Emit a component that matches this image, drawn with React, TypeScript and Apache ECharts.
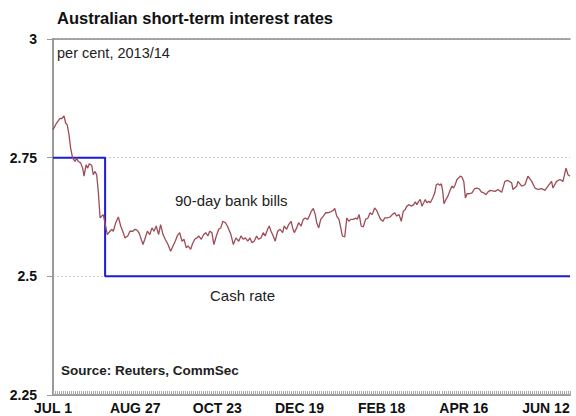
import React, { useEffect, useRef } from "react";
import * as echarts from "echarts";

// x positions are business-day indices from JUL 1 2013 (0) to JUN 30 2014 (258)
const tickDays = [0, 41, 82, 123, 164, 205, 246];
const tickLabels = ["JUL 1", "AUG 27", "OCT 23", "DEC 19", "FEB 18", "APR 16", "JUN 12"];
const yTicks = [2.25, 2.5, 2.75, 3];

const billDays = [
  0, 1.8, 3.5, 4.3, 5.5, 6.3, 7.1, 8.0, 8.8, 9.8, 11.0, 11.8, 12.6, 13.8, 14.8, 15.5, 16.5, 17.3, 18.1, 19.3,
  20.1, 21.0, 21.8, 22.6, 23.5, 24.3, 25.1, 27.1, 28.4, 29.3, 30.1, 31.3, 32.6, 33.8, 34.8, 35.9, 37.3, 38.4, 39.8, 40.9,
  42.1, 43.1, 43.8, 44.9, 45.8, 47.1, 48.3, 49.4, 50.4, 51.5, 52.7, 53.7, 54.9, 56.0, 57.4, 58.7, 59.9, 61.0, 62.0, 63.2,
  64.4, 65.4, 66.5, 67.4, 68.7, 69.5, 70.7, 71.9, 72.7, 74.0, 75.2, 76.2, 77.3, 78.2, 79.3, 80.3, 81.5, 82.7, 83.7, 84.8,
  86.0, 87.0, 88.8, 90.0, 91.3, 92.7, 93.8, 95.0, 96.0, 97.2, 98.3, 99.3, 100.4, 101.6, 102.6, 103.8, 104.9, 105.9, 107.1, 107.9,
  108.8, 109.9, 110.9, 112.1, 113.3, 114.6, 115.4, 116.6, 117.6, 118.8, 119.6, 120.4, 121.6, 122.6, 123.8, 124.9, 125.9, 127.1, 127.9, 128.9,
  129.9, 130.9, 131.6, 132.6, 133.6, 134.9, 136.1, 137.2, 138.6, 139.9, 140.6, 141.6, 142.7, 143.6, 144.4, 145.6, 146.6, 147.6, 148.6, 149.9,
  151.0, 151.8, 152.8, 153.8, 154.8, 156.0, 157.2, 158.2, 159.3, 160.5, 161.5, 162.7, 163.5, 164.7, 165.5, 166.8, 168.2, 169.3, 170.5, 171.5,
  172.7, 173.8, 174.8, 175.8, 176.6, 177.8, 178.8, 180.0, 180.8, 181.6, 182.5, 183.3, 184.1, 185.0, 185.8, 186.6, 187.5, 188.3, 189.5, 190.5,
  191.3, 192.1, 193.0, 193.8, 194.5, 195.1, 196.1, 197.1, 198.1, 199.1, 199.9, 200.7, 201.6, 202.4, 203.2, 204.1, 205.0, 205.8, 206.6, 207.8,
  209.1, 210.4, 211.6, 212.7, 213.7, 214.9, 216.1, 217.1, 218.2, 220.6, 222.1, 223.9, 225.5, 227.0, 228.9, 229.5, 231.4, 232.0, 233.9, 235.5,
  237.0, 238.9, 240.5, 242.0, 243.9, 245.5, 247.0, 248.8, 249.5, 251.3, 253.0, 254.5, 256.0, 257.0, 258.0,
];

const billRates = [
  2.809, 2.823, 2.833, 2.832, 2.838, 2.823, 2.819, 2.798, 2.770, 2.749, 2.742, 2.749, 2.742, 2.739, 2.728, 2.711, 2.735, 2.728, 2.737, 2.734,
  2.714, 2.721, 2.714, 2.679, 2.623, 2.627, 2.630, 2.588, 2.595, 2.599, 2.595, 2.613, 2.625, 2.606, 2.595, 2.581, 2.585, 2.595, 2.595, 2.599,
  2.597, 2.590, 2.581, 2.567, 2.578, 2.595, 2.588, 2.602, 2.595, 2.606, 2.588, 2.609, 2.588, 2.578, 2.567, 2.553, 2.564, 2.574, 2.585, 2.592,
  2.574, 2.578, 2.560, 2.564, 2.557, 2.567, 2.578, 2.581, 2.585, 2.578, 2.588, 2.592, 2.585, 2.595, 2.592, 2.567, 2.585, 2.599, 2.602, 2.616,
  2.613, 2.606, 2.588, 2.567, 2.581, 2.574, 2.585, 2.578, 2.581, 2.574, 2.581, 2.571, 2.574, 2.585, 2.578, 2.581, 2.592, 2.585, 2.599, 2.606,
  2.595, 2.585, 2.574, 2.595, 2.599, 2.592, 2.606, 2.599, 2.609, 2.616, 2.602, 2.592, 2.602, 2.613, 2.606, 2.620, 2.623, 2.620, 2.627, 2.637,
  2.643, 2.630, 2.613, 2.602, 2.620, 2.627, 2.634, 2.634, 2.636, 2.639, 2.643, 2.627, 2.620, 2.602, 2.585, 2.583, 2.623, 2.616, 2.620, 2.620,
  2.623, 2.620, 2.630, 2.606, 2.604, 2.620, 2.623, 2.634, 2.630, 2.644, 2.639, 2.627, 2.620, 2.616, 2.623, 2.623, 2.625, 2.630, 2.634, 2.627,
  2.630, 2.616, 2.637, 2.641, 2.648, 2.651, 2.648, 2.651, 2.657, 2.651, 2.658, 2.662, 2.648, 2.655, 2.662, 2.655, 2.658, 2.655, 2.665, 2.676,
  2.693, 2.695, 2.692, 2.695, 2.679, 2.653, 2.662, 2.669, 2.681, 2.690, 2.686, 2.693, 2.704, 2.707, 2.711, 2.709, 2.700, 2.665, 2.674, 2.674,
  2.676, 2.685, 2.686, 2.684, 2.678, 2.676, 2.672, 2.678, 2.681, 2.679, 2.683, 2.677, 2.700, 2.702, 2.697, 2.683, 2.690, 2.700, 2.690, 2.693,
  2.711, 2.700, 2.686, 2.683, 2.685, 2.681, 2.690, 2.700, 2.686, 2.700, 2.704, 2.700, 2.728, 2.714, 2.711,
];

const cashDays = [0, 26, 26, 258];
const cashRates = [2.75, 2.75, 2.5, 2.5];

const FONT = "'Liberation Sans', Arial, Helvetica, sans-serif";

export default function App() {
  const ref = useRef<HTMLDivElement>(null);

  useEffect(() => {
    if (!ref.current) return;
    const chart = echarts.init(ref.current, null, { renderer: "svg" });
    const allDays: number[] = [];
    for (let d = 0; d <= 258; d++) allDays.push(d);

    const option: any = {
      animation: false,
      backgroundColor: "#ffffff",
      grid: { left: 53, right: 6, top: 39, bottom: 21, containLabel: false, outerBoundsMode: "none" },
      xAxis: [
        {
          type: "value",
          min: 0,
          max: 258,
          axisLine: { show: true, lineStyle: { color: "#9a9a9a", width: 2 } },
          axisTick: {
            show: true,
            customValues: allDays,
            inside: true,
            length: 4,
            lineStyle: { color: "#a8a8a8", width: 1 },
          },
          axisLabel: {
            show: true,
            customValues: tickDays,
            formatter: (v: number) => {
              const i = tickDays.indexOf(Math.round(v));
              return i >= 0 ? tickLabels[i] : "";
            },
            color: "#111",
            fontFamily: FONT,
            fontWeight: "bold",
            fontSize: 14,
            margin: 6,
          },
          splitLine: { show: false },
        },
        {
          type: "value",
          position: "top",
          min: 0,
          max: 258,
          axisLine: { show: true, lineStyle: { color: "#8a8a8a", width: 1.5 } },
          axisTick: { show: false },
          axisLabel: { show: false },
          splitLine: { show: false },
        },
      ],
      yAxis: {
        type: "value",
        min: yTicks[0],
        max: yTicks[yTicks.length - 1],
        interval: 0.25,
        axisLine: { show: true, lineStyle: { color: "#9a9a9a", width: 2 } },
        axisTick: { show: true, length: 6, lineStyle: { color: "#9a9a9a" } },
        axisLabel: {
          color: "#111",
          fontFamily: FONT,
          fontWeight: "bold",
          fontSize: 14,
          margin: 16,
        },
        splitLine: { show: true, lineStyle: { color: "#cccccc", type: [2, 2], width: 1 } },
      },
      series: [
        {
          name: "Cash rate",
          type: "line",
          xAxisIndex: 0,
          data: cashDays.map((d, i) => [d, cashRates[i]]),
          showSymbol: false,
          symbol: "none",
          lineStyle: { color: "#1c1cdc", width: 2 },
          z: 3,
        },
        {
          name: "90-day bank bills",
          type: "line",
          xAxisIndex: 0,
          data: billDays.map((d, i) => [d, billRates[i]]),
          showSymbol: false,
          symbol: "none",
          lineStyle: { color: "#9e4c55", width: 1.3 },
          z: 4,
        },
      ],
      graphic: [
        {
          type: "text",
          left: 57,
          top: 9,
          style: {
            text: "Australian short-term interest rates",
            font: `bold 16.5px ${FONT}`,
            fill: "#111",
          },
        },
        {
          type: "text",
          left: 57,
          top: 45,
          style: { text: "per cent, 2013/14", font: `14.5px ${FONT}`, fill: "#222" },
        },
        {
          type: "text",
          left: 61,
          top: 363,
          style: { text: "Source: Reuters, CommSec", font: `bold 13.5px ${FONT}`, fill: "#222" },
        },
        {
          type: "text",
          left: 175,
          top: 193,
          style: { text: "90-day bank bills", font: `15px ${FONT}`, fill: "#222" },
        },
        {
          type: "text",
          left: 210,
          top: 288,
          style: { text: "Cash rate", font: `15px ${FONT}`, fill: "#222" },
        },
      ],
    };
    chart.setOption(option);
    return () => chart.dispose();
  }, []);

  return (
    <div
      ref={ref}
      style={{ position: "fixed", left: 0, top: 0, width: 576, height: 416, background: "#fff" }}
    />
  );
}
